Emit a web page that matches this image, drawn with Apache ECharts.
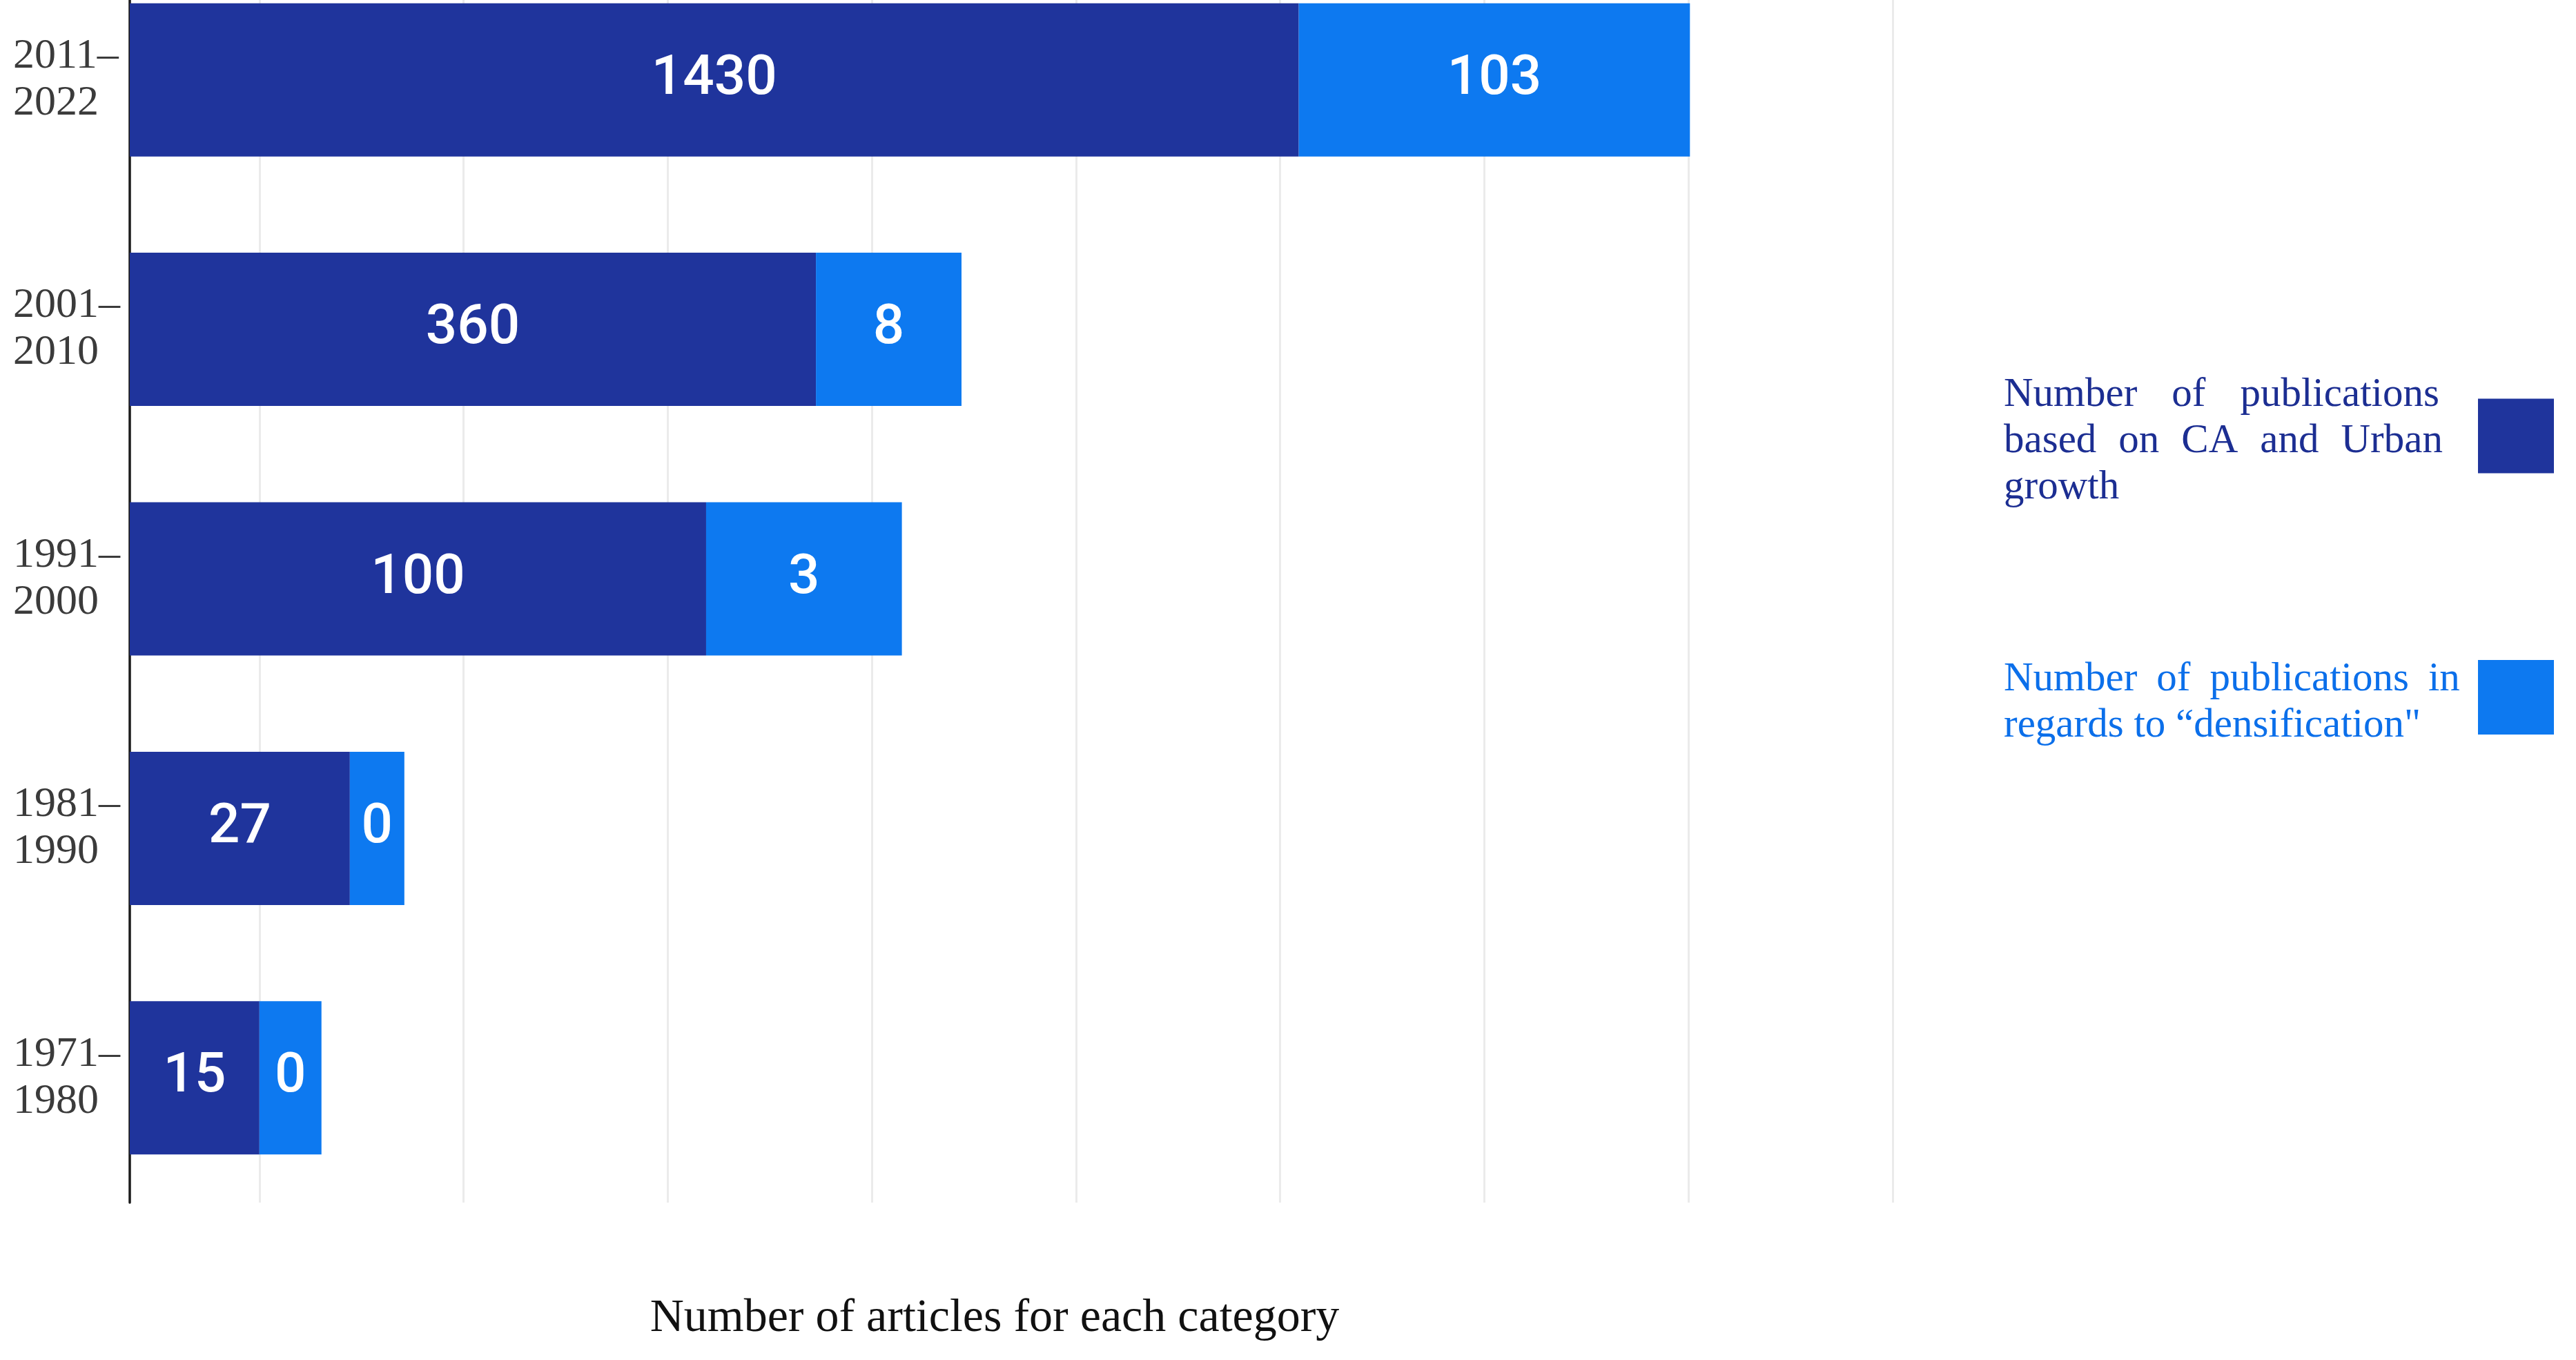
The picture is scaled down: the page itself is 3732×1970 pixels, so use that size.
<!DOCTYPE html>
<html>
<head>
<meta charset="utf-8">
<script src="https://cdn.jsdelivr.net/npm/echarts@6/dist/echarts.min.js"></script>
<style>
  html, body { margin: 0; padding: 0; background: #ffffff; }
  #chart { width: 3732px; height: 1970px; }
</style>
</head>
<body>
<div id="chart"></div>
<script>
// Category labels (top to bottom)
const categories = ['2011–\n2022', '2001–\n2010', '1991–\n2000', '1981–\n1990', '1971–\n1980'];

// Counts printed on the bars
const caCounts = [1430, 360, 100, 27, 15];
const densCounts = [103, 8, 3, 0, 0];

// Drawn bar segment lengths (units: 1/100 of a gridline step)
const caLengths = [572.6, 336.1, 282.3, 107.8, 63.5];
const densLengths = [191.6, 71.3, 95.9, 26.7, 30.4];

// Vertical gridline values (same units)
const gridValues = [63.5, 163.5, 263.5, 363.5, 463.5, 563.5, 663.5, 763.5, 863.5];

const seriesNames = [
  'Number of publications based on CA and Urban growth',
  'Number of publications in regards to “densification"'
];

const DARK = '#1f349c';
const LIGHT = '#0d79f0';

const chart = echarts.init(document.getElementById('chart'), null, { renderer: 'canvas' });

const serif = '"Liberation Serif", "Times New Roman", serif';

const barLabel = (counts) => ({
  show: true,
  position: 'inside',
  color: '#ffffff',
  fontFamily: 'Roboto, "Noto Sans", sans-serif',
  fontSize: 80,
  fontWeight: 500,
  formatter: (p) => String(counts[p.dataIndex])
});

const legendText = {
  [seriesNames[0]]: '{w|Number}{g1| }{w|of}{g1| }{w|publications}\n' +
                    '{w|based}{g2| }{w|on}{g2| }{w|CA}{g2| }{w|and}{g2| }{w|Urban}\n' +
                    '{w|growth}',
  [seriesNames[1]]: '{w|Number}{g3| }{w|of}{g3| }{w|publications}{g3| }{w|in}\n' +
                    '{w|regards to “densification"}'
};

const option = {
  animation: false,
  backgroundColor: '#ffffff',
  grid: { left: 188, right: 990, top: -65, bottom: 228, containLabel: false, outerBoundsMode: 'none' },
  legend: {
    orient: 'vertical',
    align: 'right',
    left: 2898,
    top: 518,
    itemWidth: 110,
    itemHeight: 108,
    itemGap: 195,
    icon: 'rect',
    selectedMode: false,
    data: [
      { name: seriesNames[0], textStyle: { color: '#1c2e92' } },
      { name: seriesNames[1], textStyle: { color: '#0b6fea' } }
    ],
    formatter: (name) => legendText[name],
    textStyle: {
      fontFamily: serif,
      fontSize: 59,
      lineHeight: 67,
      width: 682,
      padding: [16, 0, 0, 0],
      rich: {
        w: { fontFamily: serif, fontSize: 59, lineHeight: 67, align: 'left' },
        g1: { fontFamily: serif, fontSize: 59, lineHeight: 67, width: 50, align: 'left' },
        g2: { fontFamily: serif, fontSize: 59, lineHeight: 67, width: 32, align: 'left' },
        g3: { fontFamily: serif, fontSize: 59, lineHeight: 67, width: 28, align: 'left' }
      }
    }
  },
  xAxis: {
    type: 'value',
    min: 0,
    max: 863.5,
    axisLine: { show: false },
    axisTick: { show: false },
    axisLabel: { show: false },
    splitLine: { show: false },
    name: 'Number of articles for each category',
    nameLocation: 'middle',
    nameGap: 134,
    nameTextStyle: {
      fontFamily: serif,
      fontSize: 68,
      color: '#111111',
      padding: [0, 48, 0, 0]
    }
  },
  yAxis: {
    type: 'category',
    inverse: true,
    data: categories,
    axisLine: { show: true, lineStyle: { color: '#1a1a1a', width: 3.5 } },
    axisTick: { show: false },
    splitLine: { show: false },
    axisLabel: {
      align: 'left',
      margin: 169,
      fontFamily: serif,
      fontSize: 62,
      lineHeight: 68,
      color: '#3b3b3b'
    }
  },
  series: [
    {
      name: seriesNames[0],
      type: 'bar',
      stack: 'total',
      barWidth: 222,
      z: 2,
      itemStyle: { color: DARK },
      label: barLabel(caCounts),
      data: caLengths,
      markLine: {
        silent: true,
        z: 1,
        symbol: ['none', 'none'],
        label: { show: false },
        lineStyle: { color: '#ebebeb', width: 3, type: 'solid' },
        data: gridValues.map(v => ({ xAxis: v }))
      }
    },
    {
      name: seriesNames[1],
      type: 'bar',
      stack: 'total',
      barWidth: 222,
      z: 2,
      itemStyle: { color: LIGHT },
      label: barLabel(densCounts),
      data: densLengths
    }
  ]
};

chart.setOption(option);
</script>
</body>
</html>
